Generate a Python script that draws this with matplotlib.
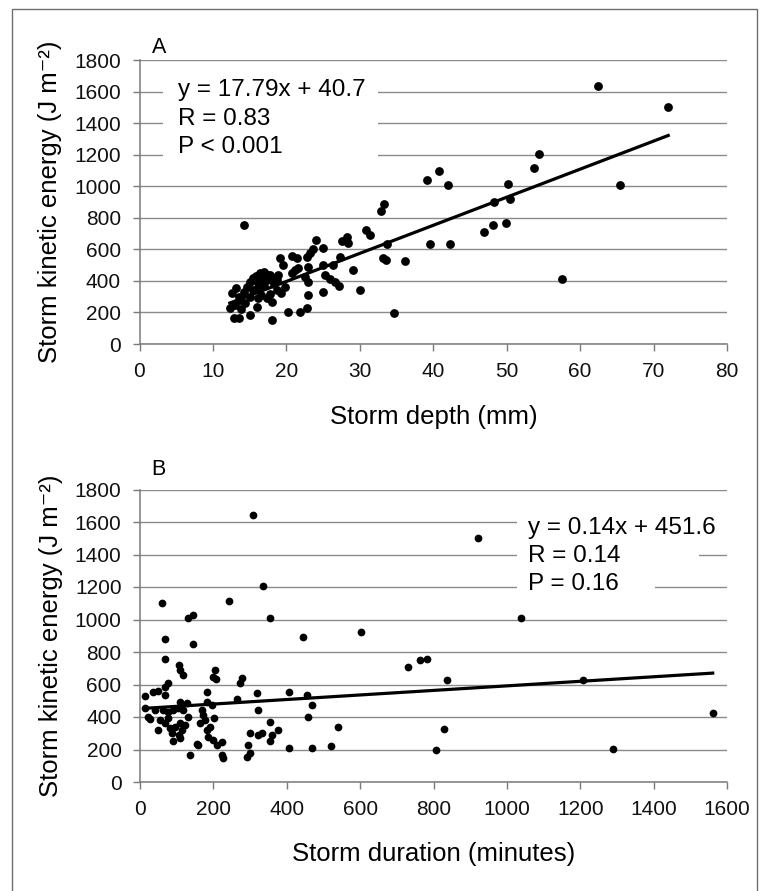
#!/usr/bin/env python3
"""Storm kinetic energy vs storm depth (A) and storm duration (B)."""

import matplotlib as mpl
import matplotlib.pyplot as plt
import numpy as np
from matplotlib.patches import Rectangle

# Panel A: storm depth (mm) vs kinetic energy (J m-2)
depth_mm = [
    72.0, 62.5, 54.4, 53.7, 39.1, 40.8, 42.0, 50.2, 65.4, 48.3,
    50.5, 46.9, 48.1, 49.9, 39.5, 42.3, 33.3, 32.9, 33.7, 33.2,
    33.5, 36.2, 57.5, 34.7, 14.2, 30.9, 31.4, 28.3, 27.6, 28.4,
    24.1, 25.0, 23.6, 23.2, 22.8, 20.8, 21.4, 19.1, 19.5, 27.3,
    25.0, 26.3, 23.0, 29.1, 20.7, 21.2, 21.6, 22.5, 25.3, 25.9,
    26.6, 27.1, 23.0, 19.8, 19.2, 25.0, 30.0, 23.0, 22.8, 21.9,
    20.2, 18.0, 12.6, 13.2, 12.3, 12.8, 13.5, 13.7, 14.4, 15.1,
    16.0, 14.6, 15.1, 15.5, 16.4, 16.9, 17.8, 17.3, 16.2, 16.6,
    17.3, 18.0, 18.7, 18.7, 15.5, 16.0, 16.8, 17.5, 18.2, 15.8,
    14.2, 13.0, 13.8, 17.0, 18.3, 15.0, 16.2, 17.8, 13.5, 18.8,
]
energy_a = [
    1500, 1635, 1205, 1115, 1038, 1095, 1006, 1015, 1006, 897,
    920, 711, 753, 765, 633, 633, 886, 842, 633, 545,
    530, 523, 413, 195, 753, 722, 690, 680, 650, 637,
    660, 606, 600, 574, 553, 557, 545, 542, 500, 553,
    500, 500, 489, 468, 447, 468, 482, 426, 437, 414,
    392, 370, 392, 363, 321, 330, 340, 308, 226, 204,
    204, 150, 321, 353, 226, 163, 163, 279, 258, 184,
    236, 363, 394, 416, 447, 458, 437, 405, 384, 310,
    289, 268, 342, 405, 340, 350, 420, 440, 420, 430,
    330, 250, 225, 370, 380, 300, 290, 320, 300, 435,
]

# Panel B: storm duration (minutes) vs kinetic energy (J m-2)
duration_min = [
    307, 920, 334, 59, 243, 354, 132, 145, 1039, 602,
    443, 68, 145, 68, 762, 782, 730, 105, 109, 116,
    204, 200, 207, 277, 273, 838, 1208, 77, 68, 50,
    36, 14, 68, 182, 320, 406, 264, 454, 468, 459,
    541, 829, 1561, 1290, 806, 109, 127, 182, 195, 14,
    23, 27, 41, 64, 77, 91, 104, 118, 132, 77,
    55, 50, 68, 82, 95, 86, 109, 123, 114, 105,
    91, 109, 168, 173, 164, 177, 191, 182, 202, 186,
    200, 209, 223, 155, 159, 136, 223, 227, 300, 295,
    300, 291, 322, 332, 322, 354, 359, 377, 354, 407,
    468, 521,
]
energy_b = [
    1645, 1500, 1205, 1100, 1115, 1010, 1010, 1030, 1010, 925,
    890, 880, 849, 755, 750, 760, 710, 722, 689, 658,
    689, 648, 634, 638, 607, 625, 625, 607, 586, 558,
    553, 529, 535, 554, 545, 551, 510, 535, 474, 402,
    340, 327, 426, 203, 200, 494, 484, 494, 474, 453,
    402, 386, 443, 443, 433, 443, 453, 443, 402, 392,
    382, 320, 361, 330, 340, 300, 361, 351, 320, 289,
    252, 269, 443, 412, 361, 382, 340, 320, 392, 279,
    258, 228, 248, 234, 228, 166, 166, 146, 300, 228,
    177, 156, 289, 300, 443, 371, 289, 320, 251, 211,
    211, 221,
]

fit_a = (17.79, 40.7)
fit_b = (0.14, 451.6)
stats_a = ["y = 17.79x + 40.7", "R = 0.83", "P < 0.001"]
stats_b = ["y = 0.14x + 451.6", "R = 0.14", "P = 0.16"]

mpl.rcParams.update(
    {
        "font.family": ["Liberation Sans", "DejaVu Sans"],
        "font.size": 15,
    }
)

W, H = 765, 891
fig = plt.figure(figsize=(W / 100, H / 100), dpi=100)
fig.patch.set_facecolor("white")

# thin grey frame round the whole figure
fig.patches.append(
    Rectangle((11.7 / W, -0.01), (757 - 11.7) / W, 1.01 - 9.3 / H,
              transform=fig.transFigure, fill=False, edgecolor="#6e6e6e", lw=1.0)
)

grid_c = "#8a8a8a"
spine_c = "#7a7a7a"


def px_box(left, top, right, bottom):
    return [left / W, 1 - bottom / H, (right - left) / W, (bottom - top) / H]


def style_axis(ax, xmax, xstep):
    ax.set_xlim(0, xmax)
    ax.set_ylim(0, 1800)
    ax.set_xticks(np.arange(0, xmax + 1, xstep))
    ax.set_yticks(np.arange(0, 1801, 200))
    ax.set_axisbelow(True)
    ax.yaxis.grid(True, color=grid_c, lw=1.0)
    for s in ("top", "right"):
        ax.spines[s].set_visible(False)
    for s in ("left", "bottom"):
        ax.spines[s].set_color(spine_c)
        ax.spines[s].set_linewidth(1.1)
    ax.tick_params(direction="out", length=4.7, width=1.0, color=spine_c,
                   labelsize=15, labelcolor="#111111")
    ax.tick_params(axis="y", pad=8.6)
    ax.tick_params(axis="x", pad=8.5)
    ax.set_ylabel("Storm kinetic energy (J m\u207b\u00b2)", fontsize=18.5)
    ax.yaxis.set_label_coords(-0.132, 0.5)


def draw_stats(ax, lines, x0, y0, dy):
    for i, t in enumerate(lines):
        ax.text(x0, y0 - i * dy, t, fontsize=17.5, va="baseline", ha="left",
                zorder=4)


# ---- Panel A
ax = fig.add_axes(px_box(139.5, 60, 727, 344))
style_axis(ax, 80, 10)
ax.scatter(depth_mm, energy_a, s=40, color="black", lw=0, zorder=3)
xa = np.array([min(depth_mm), max(depth_mm)])
ax.plot(xa, fit_a[0] * xa + fit_a[1], color="black", lw=2.3, zorder=3)
ax.set_xlabel("Storm depth (mm)", fontsize=18.5)
ax.xaxis.set_label_coords(0.501, -0.215)
ax.xaxis.label.set_va("top")
# white block behind the statistics hides the grid lines
ax.add_patch(Rectangle(((163 - 139.5) / 587.5, (344 - 167) / 284),
                       (378 - 163) / 587.5, (167 - 76) / 284,
                       transform=ax.transAxes, facecolor="white",
                       edgecolor="none", zorder=1))
draw_stats(ax, stats_a, 5.25, 1570, 179)
ax.text(0.0208, 1.024, "A", transform=ax.transAxes, fontsize=15.5,
        va="baseline", ha="left")

# ---- Panel B
ax = fig.add_axes(px_box(140, 489.5, 727, 782))
style_axis(ax, 1600, 200)
ax.scatter(duration_min, energy_b, s=31, color="black", lw=0, zorder=3)
xb = np.array([min(duration_min), max(duration_min)])
ax.plot(xb, fit_b[0] * xb + fit_b[1], color="black", lw=2.3, zorder=3)
ax.set_xlabel("Storm duration (minutes)", fontsize=18.5)
ax.xaxis.set_label_coords(0.501, -0.205)
ax.xaxis.label.set_va("top")
for left, right, bottom in ((517, 655, 600), (655, 699, 568), (699, 727, 535)):
    ax.add_patch(Rectangle(((left - 140) / 587, (782 - bottom) / 292.5),
                           (right - left) / 587, (bottom - 505) / 292.5,
                           transform=ax.transAxes, facecolor="white",
                           edgecolor="none", zorder=1))
draw_stats(ax, stats_b, 1058, 1526, 172)
ax.text(0.0185, 1.05, "B", transform=ax.transAxes, fontsize=15.5,
        va="baseline", ha="left")

fig.savefig("out.png", dpi=100, facecolor="white")
